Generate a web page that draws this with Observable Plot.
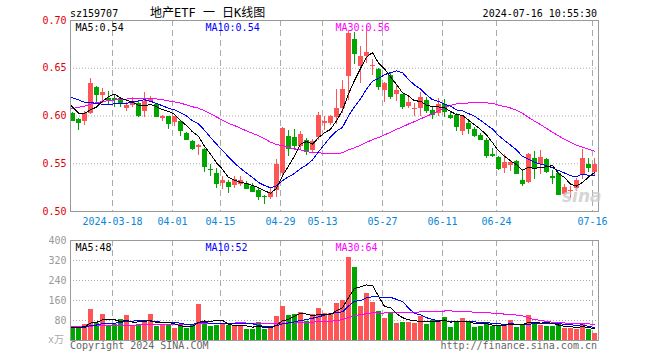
<!DOCTYPE html>
<html><head><meta charset="utf-8">
<script src="https://cdn.jsdelivr.net/npm/d3@7"></script>
<script src="https://cdn.jsdelivr.net/npm/@observablehq/plot@0.6"></script>
<style>
body{margin:0;background:#fff}
#c{position:relative;width:660px;height:360px;overflow:hidden;font-family:"DejaVu Sans Mono",monospace;background:#fff}
.t{position:absolute;white-space:nowrap;line-height:1}
</style></head><body>
<div id="c">
<div id="p1" style="position:absolute;left:0;top:0"></div>
<div id="p2" style="position:absolute;left:0;top:230px"></div>
<div class="t" style="left:70px;top:8.5px;font-size:10px;color:#000">sz159707</div>
<div class="t" style="left:150px;top:7px;font-size:12px;color:#000;font-family:'DejaVu Sans Mono','Noto Sans CJK SC',monospace">地产ETF 一 日K线图</div>
<div class="t" style="right:63px;top:8.5px;font-size:10px;color:#000">2024-07-16 10:55:30</div>
<div class="t" style="left:48px;top:335px;font-size:10px;color:#aaa;font-family:'DejaVu Sans Mono','Noto Sans CJK SC',monospace">x万</div>
<div class="t" style="left:70px;top:340.5px;font-size:10px;color:#666">Copyright 2024 SINA.COM</div>
<div class="t" style="right:63px;top:340.5px;font-size:10px;color:#666">http://finance.sina.com.cn</div>
<div class="t" style="left:562px;top:188px;font-size:17px;font-weight:bold;font-style:italic;color:#ccc;font-family:'DejaVu Sans',sans-serif;opacity:0.8">sina</div>
</div>
<script>
// ---- data ----
const open = [.603,.596,.594,.603,.630,.621,.618,.618,.618,.608,
.611,.613,.605,.615,.612,.5975,.599,.593,.594,.582,
.573,.567,.565,.544,.540,.529,.530,.527,.528,.529,
.526,.522,.516,.5145,.522,.540,.579,.578,.568,.574,
.564,.577,.592,.592,.598,.608,.641,.680,.652,.662,
.652,.649,.627,.642,.623,.622,.610,.607,.608,.616,
.606,.603,.612,.601,.601,.584,.592,.586,.580,.5745,
.5595,.557,.545,.548,.552,.532,.5305,.5555,.549,.5545,
.5365,.540,.518,.521,.5245,.539,.549,.541];
const high = [.604,.597,.605,.639,.631,.629,.626,.622,.619,.614,
.619,.616,.625,.620,.613,.601,.600,.600,.595,.583,
.574,.570,.566,.549,.545,.537,.532,.537,.537,.531,
.529,.524,.517,.524,.554,.588,.585,.586,.584,.576,
.575,.604,.600,.601,.628,.637,.688,.687,.673,.695,
.659,.650,.635,.644,.633,.623,.619,.613,.625,.619,
.610,.618,.6175,.605,.603,.600,.5945,.588,.582,.576,
.566,.5575,.560,.552,.553,.5435,.561,.563,.5635,.556,
.543,.541,.5285,.526,.535,.565,.555,.556];
const low = [.594,.585,.590,.602,.614,.613,.611,.609,.609,.605,
.609,.598,.598,.614,.599,.594,.586,.589,.579,.574,
.564,.559,.541,.537,.524,.523,.519,.524,.526,.523,
.520,.511,.507,.513,.515,.536,.558,.564,.565,.559,
.561,.574,.585,.590,.591,.603,.616,.654,.634,.655,
.642,.627,.614,.617,.615,.607,.608,.600,.600,.603,
.596,.599,.598,.596,.584,.580,.5805,.577,.574,.556,
.5565,.543,.540,.542,.539,.526,.529,.533,.539,.540,
.528,.517,.5155,.514,.521,.534,.541,.537];
const close = [.595,.593,.603,.634,.622,.625,.617,.617,.613,.611,
.615,.601,.615,.618,.600,.5995,.592,.599,.585,.575,
.566,.569,.547,.5435,.5295,.532,.526,.533,.532,.524,
.521,.5155,.5155,.520,.549,.587,.566,.569,.581,.563,
.573,.601,.594,.599,.608,.628,.686,.665,.662,.6665,
.653,.631,.634,.620,.627,.610,.614,.608,.619,.606,
.602,.6125,.605,.5985,.589,.599,.587,.580,.5755,.559,
.559,.545,.551,.551,.5395,.529,.560,.546,.5565,.542,
.536,.518,.5255,.5215,.532,.555,.546,.549];
const volume = [53,51,64,124,69,104,56,64,83,100,
61,64,73,104,56,64,64,47,60,49,
60,144,77,56,60,67,60,60,60,44,
44,71,44,47,97,136,100,103,113,76,
103,129,107,107,149,160,333,293,137,188,
152,116,88,111,69,73,73,69,96,64,
80,77,93,53,73,88,73,53,56,69,
56,60,63,80,53,63,100,73,60,57,
57,63,47,50,46,70,46,27];
// sessions before the first visible candle (only feed the moving averages)
const preClose = [.560,.565,.572,.578,.585,.590,.594,.598,.600,.603,.605,.607,.613,
.618,.624,.630,.628,.626,.627,.626,.615,.628,.636,.632,.632,.625,.604,.616,.607];
const preVolume = [62,70,55,48,75,66,58,52,60,72,54,49,63,57,68,52,47,61,56,55,
45,52,42,50,46,50,58,48,56];
const tickIdx = [7,17,25,35,42,52,62,71,87];
const tickLabels = ["2024-03-18","04-01","04-15","04-29","05-13","05-27","06-11","06-24","07-16"];
const priceTicks = [0.50,0.55,0.60,0.65,0.70];
const priceGrid = [0.55,0.60,0.65];
const volTicks = [80,160,240,320,400];
const volGrid = [80,160,240,320];
const maPriceLabels = ["MA5:0.54","MA10:0.54","MA30:0.56"];
const maVolLabels = ["MA5:48","MA10:52","MA30:64"];
const maPeriods = [5,10,30];
const maColors = ["#000000","#0000ff","#ff00ff"];

// ---- build ----
const RED = "#ff5555", GREEN = "#00a600";
const candles = close.map((c,i)=>({i, o:open[i], h:high[i], l:low[i], c, v:volume[i], up:c>=open[i]}));
const col = d => d.up ? RED : GREEN;
const mid = d => d.i + 2/6;
const np = preClose.length;
const maP = preClose.concat(close).map((c,j)=>({i:j-np, c}));
const maV = preVolume.concat(volume).map((v,j)=>({i:j-preVolume.length, v}));
const labelMap = new Map(tickIdx.map((d,k)=>[d, tickLabels[k]]));
const labelDx = [5,135,265];
const font = {fontFamily:"DejaVu Sans Mono, monospace", fontSize:"10px", background:"transparent", overflow:"visible"};

const maLinesP = [30,10,5].map(k => Plot.line(maP, Plot.windowY({k, anchor:"end"},
  {x: mid, y:"c", stroke: maColors[maPeriods.indexOf(k)], strokeWidth:1, clip:true, shapeRendering:"crispEdges"})));
const maLinesV = [30,10,5].map(k => Plot.line(maV, Plot.windowY({k, anchor:"end"},
  {x: mid, y:"v", stroke: maColors[maPeriods.indexOf(k)], strokeWidth:1, clip:true, shapeRendering:"crispEdges"})));

const p1 = Plot.plot({
  width:660, height:230, marginLeft:70, marginRight:62, marginTop:20, marginBottom:19,
  style: font,
  x:{type:"linear", domain:[0,88], label:null},
  y:{domain:[0.5,0.7], label:null},
  marks:[
    Plot.ruleY(priceGrid, {stroke:"#aaa", strokeDasharray:"1,2"}),
    Plot.ruleX(tickIdx, {stroke:"#aaa", strokeDasharray:"6,4"}),
    Plot.ruleX(candles, {x: mid, y1:"l", y2:"h", stroke: col, shapeRendering:"crispEdges"}),
    Plot.rect(candles, {x1:"i", x2: d=>d.i+5/6, y1:"o", y2:"c", fill: col, shapeRendering:"crispEdges"}),
    Plot.ruleY(candles, {x1:"i", x2: d=>d.i+5/6, y:"c", stroke: col, shapeRendering:"crispEdges"}),
    ...maLinesP,
    Plot.axisY(priceTicks, {anchor:"left", label:null, tickSize:0, tickPadding:4, tickFormat: d=>d.toFixed(2), color:"#dd0000", fontSize:10}),
    Plot.axisX(tickIdx, {anchor:"bottom", label:null, tickSize:0, tickPadding:6, tickFormat: d=>labelMap.get(d), color:"#0a86d6", fontSize:10}),
    Plot.frame({stroke:"#999"}),
    ...maPriceLabels.map((t,k)=>Plot.text([t], {text:d=>d, frameAnchor:"top-left", textAnchor:"start", lineAnchor:"top", dx:labelDx[k], dy:3, fill:maColors[k], fontSize:10}))
  ]
});
document.getElementById("p1").append(p1);

const p2 = Plot.plot({
  width:660, height:130, marginLeft:70, marginRight:62, marginTop:10, marginBottom:20,
  style: font,
  x:{type:"linear", domain:[0,88], axis:null, label:null},
  y:{domain:[0,400], label:null},
  marks:[
    Plot.ruleY(volGrid, {stroke:"#aaa", strokeDasharray:"1,2"}),
    Plot.ruleX(tickIdx, {stroke:"#aaa", strokeDasharray:"6,4"}),
    Plot.rect(candles, {x1:"i", x2: d=>d.i+5/6, y1:0, y2:"v", fill: col, shapeRendering:"crispEdges"}),
    ...maLinesV,
    Plot.axisY(volTicks, {anchor:"left", label:null, tickSize:0, tickPadding:4, color:"#999", fontSize:10}),
    Plot.frame({stroke:"#999"}),
    ...maVolLabels.map((t,k)=>Plot.text([t], {text:d=>d, frameAnchor:"top-left", textAnchor:"start", lineAnchor:"top", dx:labelDx[k], dy:3, fill:maColors[k], fontSize:10}))
  ]
});
document.getElementById("p2").append(p2);
</script>
</body></html>
